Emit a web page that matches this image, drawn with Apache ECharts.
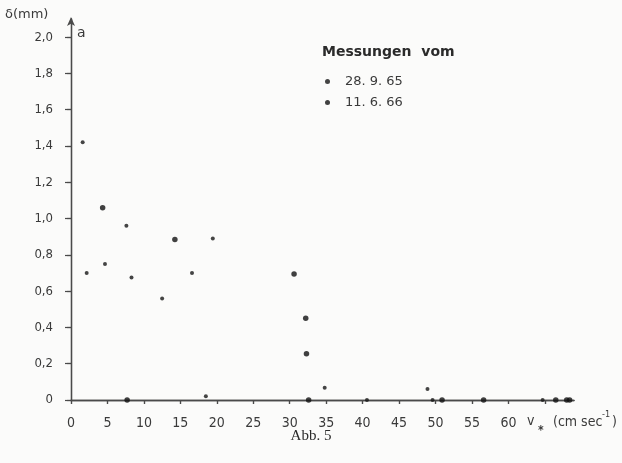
<!DOCTYPE html>
<html>
<head>
<meta charset="utf-8">
<script src="https://cdn.jsdelivr.net/npm/echarts@6/dist/echarts.min.js"></script>
<style>
html,body{margin:0;padding:0;background:#fbfbfa;}
#c{width:622px;height:463px;}
</style>
</head>
<body>
<div id="c"></div>
<script>
// ---- data (v* in cm/s, delta in mm) ----
var seriesNames = ['28. 9. 65', '11. 6. 66'];
var v_289 = [1.6, 2.15, 4.66, 7.6, 8.3, 12.5, 16.6, 19.45, 18.5, 34.8, 40.6, 48.9, 49.6, 64.7];
var d_289 = [1.42, 0.70, 0.75, 0.96, 0.675, 0.56, 0.70, 0.89, 0.02, 0.068, 0, 0.06, 0, 0];
var v_116 = [4.34, 14.25, 30.6, 32.2, 32.3, 7.7, 32.6, 50.9, 56.6, 66.5, 68.0, 68.4];
var d_116 = [1.06, 0.885, 0.695, 0.45, 0.255, 0, 0, 0, 0, 0, 0, 0];
var xTickValues = [0, 5, 10, 15, 20, 25, 30, 35, 40, 45, 50, 55, 60, 65];
var xTickLabels = ['0', '5', '10', '15', '20', '25', '30', '35', '40', '45', '50', '55', '60', ''];
var yTickValues = [0, 0.2, 0.4, 0.6, 0.8, 1.0, 1.2, 1.4, 1.6, 1.8, 2.0];
var yTickLabels = ['0', '0,2', '0,4', '0,6', '0,8', '1,0', '1,2', '1,4', '1,6', '1,8', '2,0'];

function pairs(xs, ys) { return xs.map(function (x, i) { return [x, ys[i]]; }); }
function labelFor(vals, labels) {
  return function (v) {
    for (var i = 0; i < vals.length; i++) { if (Math.abs(vals[i] - v) < 1e-6) return labels[i]; }
    return '';
  };
}

var axisColor = '#4a4a4a';
var textColor = '#3a3a3a';
var tickFont = "'Liberation Sans Narrow','DejaVu Sans Condensed','Liberation Sans',sans-serif";

var chart = echarts.init(document.getElementById('c'), null, {renderer: 'canvas'});
chart.setOption({
  backgroundColor: '#fbfbfa',
  animation: false,
  grid: {left: 71, right: 48, top: 19, bottom: 63, containLabel: false, outerBoundsMode: 'none'},
  legend: {
    orient: 'vertical',
    left: 320,
    top: 70,
    itemWidth: 5,
    itemHeight: 5,
    itemGap: 8,
    icon: 'circle',
    textStyle: {fontFamily: "'DejaVu Sans',sans-serif", fontSize: 13, color: textColor, padding: [0, 0, 0, 10]},
    data: seriesNames
  },
  xAxis: [{
    type: 'value', min: 0, max: 69, interval: 5, position: 'bottom',
    axisLine: {show: true, lineStyle: {color: axisColor, width: 1.3}},
    axisTick: {show: true, length: 4, inside: false, lineStyle: {color: axisColor, width: 1.2}, customValues: xTickValues},
    axisLabel: {show: true, margin: 16, fontSize: 14, fontFamily: tickFont, color: textColor,
      customValues: xTickValues, formatter: labelFor(xTickValues, xTickLabels)},
    splitLine: {show: false}
  }, {
    type: 'value', min: 0, max: 69, interval: 5, position: 'top',
    axisLine: {show: true, lineStyle: {color: axisColor, width: 1.3}},
    axisTick: {show: true, length: 4, inside: true, lineStyle: {color: axisColor, width: 1.2}, customValues: xTickValues},
    axisLabel: {show: false},
    splitLine: {show: false}
  }],
  yAxis: [{
    type: 'value', min: 0, max: 2.1, interval: 0.2, position: 'left',
    axisLine: {show: true, symbol: ['none', 'arrow'], symbolSize: [6, 9], symbolOffset: [0, 2], lineStyle: {color: axisColor, width: 1.3}},
    axisTick: {show: true, length: 6, inside: false, lineStyle: {color: axisColor, width: 1.2}, customValues: yTickValues},
    axisLabel: {show: true, margin: 18, fontSize: 13, fontFamily: tickFont, color: textColor,
      customValues: yTickValues, formatter: labelFor(yTickValues, yTickLabels)},
    splitLine: {show: false}
  }, {
    type: 'value', min: 0, max: 2.1, interval: 0.2, position: 'right',
    axisLine: {show: true, lineStyle: {color: axisColor, width: 1.3}},
    axisTick: {show: true, length: 4, inside: true, lineStyle: {color: axisColor, width: 1.2}, customValues: yTickValues},
    axisLabel: {show: false},
    splitLine: {show: false}
  }],
  series: [{
    name: seriesNames[0], type: 'scatter', symbol: 'circle', symbolSize: 4,
    itemStyle: {color: '#161616'}, data: pairs(v_289, d_289)
  }, {
    name: seriesNames[1], type: 'scatter', symbol: 'circle', symbolSize: 5.5,
    itemStyle: {color: '#111111'}, data: pairs(v_116, d_116)
  }],
  graphic: [
    {type: 'text', left: 5, top: 8, style: {text: 'δ(mm)', fontSize: 13, fontFamily: "'DejaVu Sans',sans-serif", fill: textColor}},
    {type: 'text', left: 77, top: 26, style: {text: 'a', fontSize: 14, fontFamily: "'DejaVu Sans',sans-serif", fill: textColor}},
    {type: 'text', left: 322, top: 45, style: {text: 'Messungen  vom', fontSize: 14, fontWeight: 'bold', fontFamily: "'DejaVu Sans',sans-serif", fill: '#2a2a2a'}},
    {type: 'text', left: 527, top: 414, style: {text: 'v', fontSize: 14, fontFamily: tickFont, fill: textColor}},
    {type: 'text', left: 538, top: 425, style: {text: '*', fontSize: 12, fontWeight: 'bold', fontFamily: tickFont, fill: textColor}},
    {type: 'text', left: 553, top: 415, style: {text: '(cm sec', fontSize: 14, fontFamily: tickFont, fill: textColor}},
    {type: 'text', left: 602, top: 410, style: {text: '-1', fontSize: 9, fontFamily: tickFont, fill: textColor}},
    {type: 'text', left: 612, top: 415, style: {text: ')', fontSize: 14, fontFamily: tickFont, fill: textColor}},
    {type: 'text', left: 'center', top: 429, style: {text: 'Abb. 5', fontSize: 15, fontFamily: "'Liberation Serif','DejaVu Serif',serif", fill: '#2a2a2a'}}
  ]
});
</script>
</body>
</html>
